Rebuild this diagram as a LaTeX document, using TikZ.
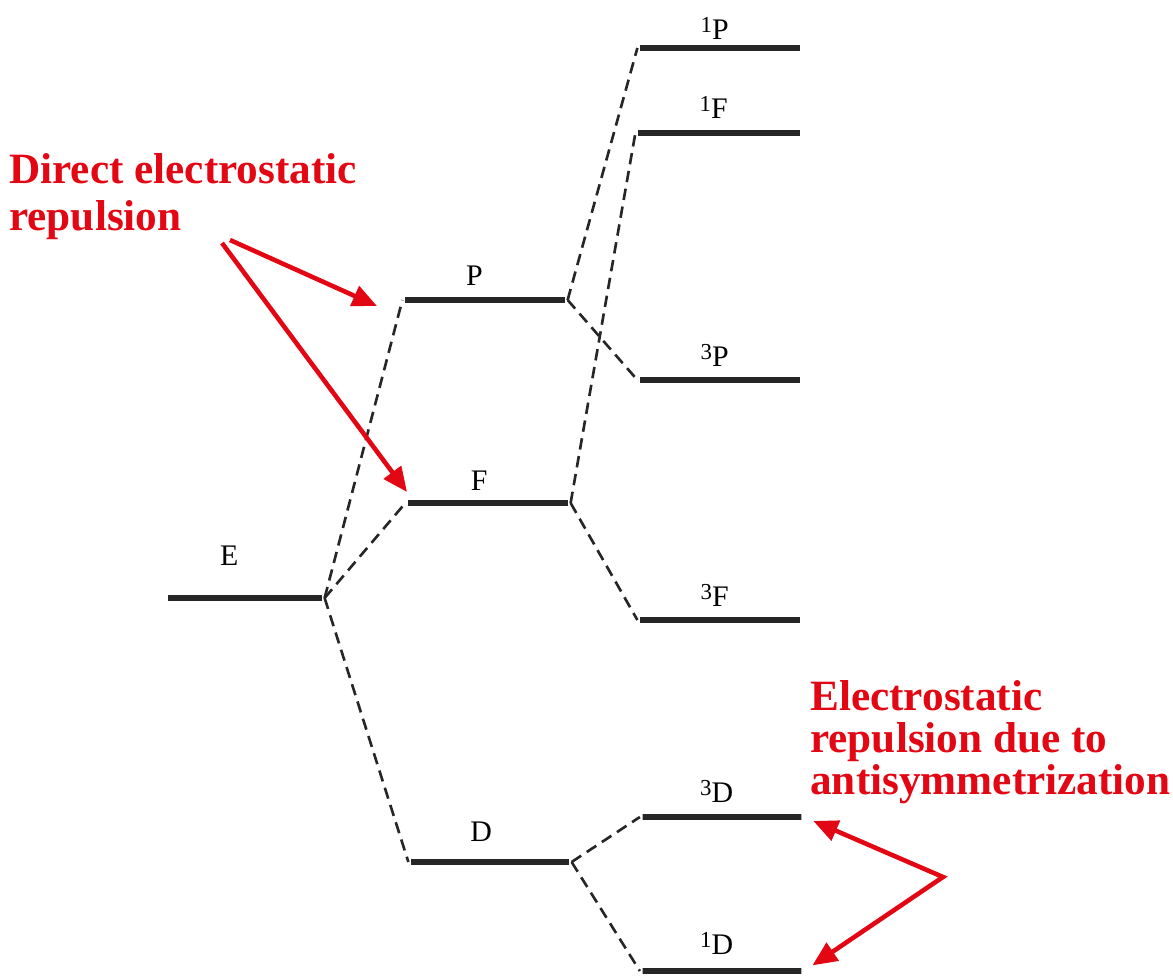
\documentclass[tikz,border=0pt]{standalone}
\usepackage{fontspec}
\setmainfont{Liberation Serif}
\usetikzlibrary{arrows.meta}
\definecolor{notered}{HTML}{E30613}
\definecolor{levelgray}{HTML}{262626}
\newcommand{\spinmult}[1]{\raisebox{4pt}{\fontsize{13}{13}\selectfont#1}}

\begin{document}
\begin{tikzpicture}[x=0.02cm,y=-0.02cm,
    term/.style={draw=levelgray,line width=3pt,inner sep=0pt,minimum height=0pt},
    split/.style={levelgray,line width=1.5pt,dash pattern=on 6.5pt off 3.8pt},
    note/.style={text=notered,font=\bfseries\fontsize{24.6}{27}\selectfont,align=left,inner sep=0pt},
    pointer/.style={notered,line width=2.6pt},
    tip/.tip={Triangle[length=14pt,width=12pt]}]
  \useasboundingbox (0,0) rectangle (1173,976);
  % energy levels
  \foreach \nm/\cx/\cy/\len/\dx/\gap/\txt in {E/245/598/3.08cm/-9pt/13.5pt/E, P/485/300/3.2cm/-6pt/3.5pt/P,
      F/488/503/3.2cm/-5pt/1.8pt/F, D/490/862/3.16cm/-5pt/6.5pt/D,
      sP/720/48/3.2cm/-3pt/0pt/{\spinmult{1}P}, sF/719/133/3.24cm/-3pt/3pt/{\spinmult{1}F},
      tP/720/380/3.2cm/-3pt/2.5pt/{\spinmult{3}P}, tF/720/620/3.2cm/-3pt/2.5pt/{\spinmult{3}F},
      tD/722/817/3.18cm/-3pt/3pt/{\spinmult{3}D}, sD/722/971/3.18cm/-3pt/4.5pt/{\spinmult{1}D}}
    \node[term,minimum width=\len,
      label={[xshift=\dx,label distance=\gap,font=\fontsize{17}{20}\selectfont]above:\txt}] (\nm) at (\cx,\cy) {};
  \foreach \a/\b in {E/P,E/F,E/D,P/sP,P/tP,F/sF,F/tF,D/tD,D/sD}
    \draw[split] (\a.east) -- (\b.west);
  % annotations
  \node[note,anchor=north west] (direct) at (9,153) {Direct electrostatic\\repulsion};
  \node[note,anchor=north west,font=\bfseries\fontsize{24.6}{24}\selectfont] (exch) at (810,680)
    {Electrostatic\\repulsion due to\\antisymmetrization};
  \coordinate (fork1) at (230,240);
  \coordinate (fork1b) at (222,243);
  \coordinate (hitP) at (377,306);
  \coordinate (hitF) at (407,492);
  \coordinate (fork2) at (943,877);
  \draw[pointer,-tip] (fork1) -- (hitP);
  \draw[pointer,-tip] (fork1b) -- (hitF);
  \draw[pointer,tip-tip,shorten <=0.2cm,shorten >=0.2cm] (tD.east) -- (fork2) -- (sD.east);
\end{tikzpicture}
\end{document}
